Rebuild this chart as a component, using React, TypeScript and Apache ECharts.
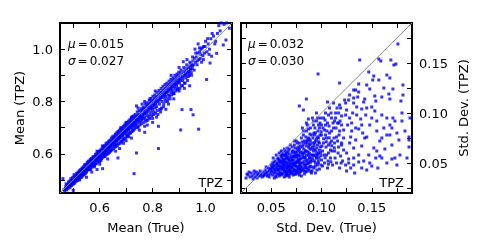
import React, { useEffect, useRef } from "react";
import * as echarts from "echarts";

const FONT = "DejaVu Sans";

// Axis ranges and ticks
const meanRange = [0.45, 1.1];
const meanTicks = [0.5, 0.6, 0.7, 0.8, 0.9, 1.0, 1.1];
const meanLabels = [0.6, 0.8, 1.0];
const stdRange = [0.02, 0.19];
const stdTicks = [0.025, 0.05, 0.075, 0.1, 0.125, 0.15, 0.175];
const stdLabels = [0.05, 0.1, 0.15];

const meanStats = ["0.015", "0.027"];
const stdStats = ["0.032", "0.030"];

// Mean (True) vs Mean (TPZ)
const meanPoints: number[][] = [
  [0.461,0.505],[0.465,0.462],[0.47,0.468],[0.472,0.475],[0.475,0.47],[0.478,0.48],[0.48,0.476],[0.482,0.49],[0.485,0.482],[0.487,0.479],
  [0.49,0.492],[0.492,0.486],[0.494,0.5],[0.495,0.49],[0.497,0.495],[0.5,0.46],[0.5,0.497],[0.502,0.493],[0.504,0.51],[0.505,0.5],
  [0.507,0.498],[0.509,0.505],[0.51,0.515],[0.512,0.503],[0.514,0.509],[0.515,0.52],[0.517,0.512],[0.519,0.51],[0.52,0.525],[0.522,0.516],
  [0.524,0.5],[0.525,0.52],[0.527,0.53],[0.529,0.522],[0.53,0.518],[0.532,0.535],[0.534,0.527],[0.535,0.54],[0.537,0.53],[0.539,0.545],
  [0.54,0.525],[0.542,0.538],[0.544,0.55],[0.545,0.536],[0.547,0.545],[0.549,0.54],[0.55,0.555],[0.55,0.53],
  [0.552,0.548],[0.554,0.56],[0.555,0.545],[0.557,0.552],[0.559,0.565],[0.56,0.55],[0.562,0.569],[0.563,0.558],[0.565,0.54],[0.566,0.562],
  [0.568,0.575],[0.57,0.565],[0.571,0.555],[0.573,0.57],[0.575,0.58],[0.576,0.566],[0.578,0.574],[0.58,0.585],[0.581,0.57],[0.583,0.578],
  [0.585,0.59],[0.586,0.575],[0.588,0.583],[0.59,0.595],[0.591,0.58],[0.593,0.588],[0.595,0.6],[0.596,0.585],[0.598,0.592],[0.6,0.605],
  [0.601,0.59],[0.603,0.598],[0.605,0.575],[0.606,0.61],[0.608,0.6],[0.61,0.592],[0.611,0.615],[0.613,0.605],[0.615,0.62],[0.616,0.608],
  [0.618,0.6],[0.62,0.625],[0.621,0.612],[0.623,0.618],[0.625,0.63],[0.626,0.605],[0.628,0.62],[0.63,0.635],[0.631,0.623],[0.633,0.615],
  [0.635,0.64],[0.636,0.628],[0.638,0.632],[0.64,0.645],[0.641,0.62],[0.643,0.637],[0.645,0.65],[0.646,0.64],[0.648,0.63],[0.65,0.655],
  [0.62,0.59],[0.58,0.555],[0.6,0.57],[0.64,0.61],[0.61,0.63],[0.59,0.61],[0.611,0.543],[0.58,0.55],
  [0.651,0.642],[0.653,0.66],[0.655,0.648],[0.656,0.635],[0.658,0.655],[0.66,0.665],[0.661,0.65],[0.663,0.658],[0.665,0.64],[0.666,0.67],
  [0.668,0.66],[0.669,0.584],[0.67,0.652],[0.672,0.675],[0.673,0.665],[0.675,0.66],[0.676,0.68],[0.678,0.67],[0.68,0.645],[0.681,0.685],
  [0.683,0.675],[0.685,0.668],[0.686,0.69],[0.688,0.68],[0.69,0.66],[0.691,0.695],[0.693,0.685],[0.695,0.675],[0.696,0.7],[0.698,0.69],
  [0.7,0.68],[0.701,0.705],[0.703,0.695],[0.705,0.67],[0.706,0.71],[0.708,0.7],[0.71,0.69],[0.711,0.715],[0.713,0.705],[0.715,0.68],
  [0.716,0.72],[0.718,0.71],[0.72,0.7],[0.721,0.725],[0.723,0.712],[0.725,0.69],[0.726,0.73],[0.728,0.72],[0.73,0.524],[0.73,0.705],
  [0.731,0.735],[0.733,0.722],[0.735,0.71],[0.736,0.74],[0.738,0.728],[0.739,0.603],[0.74,0.715],[0.741,0.745],[0.743,0.732],[0.745,0.7],
  [0.746,0.75],[0.748,0.738],[0.75,0.72],[0.7,0.72],[0.68,0.7],[0.72,0.74],[0.66,0.628],[0.71,0.665],[0.69,0.64],[0.739,0.783],
  [0.751,0.748],[0.753,0.74],[0.755,0.725],[0.756,0.76],[0.758,0.745],[0.76,0.73],[0.761,0.765],[0.763,0.75],[0.765,0.735],[0.766,0.77],
  [0.768,0.755],[0.77,0.682],[0.77,0.74],[0.771,0.775],[0.773,0.76],[0.775,0.725],[0.776,0.78],[0.778,0.765],[0.78,0.745],[0.781,0.785],
  [0.783,0.77],[0.785,0.74],[0.786,0.79],[0.788,0.775],[0.79,0.75],[0.791,0.795],[0.793,0.78],[0.795,0.76],[0.796,0.8],[0.798,0.785],
  [0.8,0.77],[0.8,0.735],[0.802,0.805],[0.804,0.79],[0.805,0.76],[0.807,0.81],[0.809,0.795],[0.81,0.775],[0.812,0.815],[0.814,0.8],
  [0.815,0.78],[0.817,0.82],[0.819,0.805],[0.82,0.75],[0.822,0.705],[0.822,0.62],[0.823,0.825],[0.825,0.81],[0.826,0.79],[0.828,0.83],
  [0.83,0.815],[0.831,0.77],[0.833,0.835],[0.835,0.82],[0.836,0.8],[0.838,0.84],[0.84,0.825],[0.841,0.78],[0.843,0.845],[0.845,0.83],
  [0.846,0.81],[0.848,0.85],[0.85,0.835],[0.76,0.79],[0.79,0.81],[0.77,0.8],[0.745,0.775],[0.81,0.84],
  [0.851,0.82],[0.853,0.855],[0.855,0.84],[0.856,0.8],[0.858,0.86],[0.86,0.845],[0.861,0.825],[0.863,0.865],[0.865,0.85],[0.866,0.81],
  [0.868,0.87],[0.87,0.855],[0.871,0.835],[0.873,0.875],[0.875,0.86],[0.876,0.84],[0.878,0.88],[0.88,0.865],[0.881,0.83],[0.883,0.885],
  [0.885,0.87],[0.886,0.85],[0.888,0.89],[0.89,0.875],[0.891,0.86],[0.893,0.895],[0.895,0.88],[0.896,0.85],[0.898,0.9],[0.9,0.885],
  [0.902,0.87],[0.904,0.905],[0.906,0.691],[0.906,0.89],[0.908,0.86],[0.91,0.91],[0.911,0.769],[0.912,0.895],[0.914,0.88],[0.916,0.952],
  [0.917,0.915],[0.919,0.9],[0.92,0.87],[0.922,0.92],[0.924,0.905],[0.926,0.89],[0.928,0.925],[0.93,0.91],[0.932,0.88],[0.934,0.93],
  [0.936,0.915],[0.938,0.9],[0.94,0.935],[0.942,0.92],[0.944,0.945],[0.945,0.769],[0.946,0.91],[0.948,0.94],[0.95,0.925],[0.953,0.749],
  [0.87,0.9],[0.9,0.93],[0.93,0.96],
  [0.952,0.955],[0.955,0.94],[0.958,0.965],[0.96,1.0],[0.962,0.95],[0.965,0.97],[0.968,0.94],[0.97,0.985],[0.972,1.02],[0.974,0.694],
  [0.975,0.96],[0.978,0.99],[0.98,0.965],[0.983,1.0],[0.985,0.95],[0.988,1.005],[0.99,0.975],[0.993,1.01],[0.996,0.985],[1.0,1.03],
  [1.004,0.884],[1.005,0.99],[1.01,1.02],[1.015,1.0],[1.017,0.947],[1.02,1.04],[1.023,0.973],[1.03,1.05],[1.035,1.02],[1.042,0.984],
  [1.045,1.06],[1.05,1.09],[1.055,1.07],[1.06,1.1],[1.067,1.016],[1.07,1.095],[1.077,1.035],[1.08,1.1],[1.09,1.08],
  [0.468,0.458],[0.473,0.485],[0.476,0.462],[0.481,0.468],[0.484,0.495],[0.488,0.472],[0.491,0.505],[0.493,0.478],[0.496,0.482],[0.498,0.51],
  [0.501,0.485],[0.503,0.52],[0.506,0.488],[0.508,0.515],[0.511,0.495],[0.513,0.525],[0.516,0.498],[0.518,0.53],[0.521,0.505],[0.523,0.535],
  [0.526,0.508],[0.528,0.54],[0.531,0.51],[0.533,0.545],[0.536,0.515],[0.538,0.55],[0.541,0.52],[0.543,0.558],[0.546,0.525],[0.548,0.56],
  [0.551,0.535],[0.553,0.568],[0.556,0.538],[0.558,0.572],[0.561,0.54],[0.564,0.578],[0.567,0.545],[0.569,0.582],[0.572,0.55],[0.574,0.588],
  [0.577,0.555],[0.579,0.59],[0.582,0.56],[0.584,0.598],[0.587,0.562],[0.589,0.6],[0.592,0.568],[0.594,0.608],[0.597,0.572],[0.599,0.61],
  [0.602,0.578],[0.604,0.615],[0.607,0.582],[0.609,0.62],[0.612,0.585],[0.614,0.628],[0.617,0.59],[0.619,0.632],[0.622,0.595],[0.624,0.64],
  [0.627,0.598],[0.629,0.642],[0.632,0.6],[0.634,0.648],[0.637,0.605],[0.639,0.652],[0.642,0.612],[0.644,0.66],[0.647,0.615],[0.649,0.665],
  [0.652,0.62],[0.654,0.668],[0.657,0.625],[0.659,0.675],[0.662,0.63],[0.664,0.68],[0.667,0.632],[0.669,0.685],[0.672,0.638],[0.674,0.69],
  [0.677,0.64],[0.679,0.695],[0.682,0.648],[0.684,0.698],[0.687,0.65],[0.689,0.705],[0.692,0.655],[0.694,0.71],[0.697,0.66],[0.699,0.715],
  [0.702,0.665],[0.704,0.72],[0.707,0.672],[0.709,0.725],[0.712,0.678],[0.714,0.73],[0.717,0.68],[0.719,0.735],[0.722,0.685],[0.724,0.742],
  [0.727,0.69],[0.729,0.745],[0.732,0.695],[0.734,0.75],[0.737,0.7],[0.742,0.76],[0.744,0.705],[0.749,0.765],[0.752,0.71],[0.757,0.772],
  [0.759,0.715],[0.764,0.778],[0.767,0.72],[0.772,0.79],[0.774,0.73],[0.779,0.795],[0.782,0.728],[0.787,0.805],[0.789,0.735],[0.794,0.812],
  [0.797,0.745],[0.801,0.82],[0.803,0.75],[0.808,0.825],[0.811,0.755],[0.816,0.835],[0.818,0.765],[0.824,0.842],[0.827,0.77],[0.832,0.85],
  [0.834,0.775],[0.839,0.858],[0.842,0.79],[0.847,0.865],[0.849,0.8],[0.854,0.87],[0.857,0.81],[0.862,0.878],[0.864,0.82],[0.869,0.885],
  [0.872,0.825],[0.877,0.89],[0.879,0.83],[0.884,0.9],[0.887,0.84],[0.892,0.905],[0.894,0.845],[0.899,0.912],[0.903,0.85],[0.907,0.92],
  [0.913,0.86],[0.918,0.93],[0.923,0.87],[0.929,0.94],[0.935,0.895],[0.941,0.95],[0.947,0.9],[0.951,0.97],[0.957,0.92],[0.963,0.985],
  [0.969,0.955],[0.977,1.005],[0.982,0.98],[0.992,0.96],[0.998,1.01],[1.008,1.04],[1.013,0.98],[1.025,1.06],[1.038,1.03],
  [0.474,0.466],[0.486,0.474],[0.499,0.488],[0.506,0.494],[0.518,0.502],[0.527,0.515],[0.538,0.522],[0.546,0.532],[0.557,0.54],[0.564,0.553],
  [0.574,0.558],[0.583,0.565],[0.592,0.576],[0.604,0.586],[0.612,0.598],[0.619,0.61],[0.627,0.612],[0.634,0.622],[0.642,0.63],[0.649,0.638],
  [0.657,0.642],[0.664,0.65],[0.671,0.66],[0.679,0.662],[0.686,0.672],[0.694,0.68],[0.702,0.686],[0.709,0.694],[0.717,0.698],[0.724,0.706],
  [0.732,0.715],[0.74,0.724],[0.747,0.728],[0.754,0.735],[0.762,0.742],[0.769,0.752],[0.777,0.755],[0.784,0.762],[0.792,0.772],[0.799,0.776],
  [0.806,0.785],[0.813,0.79],[0.821,0.8],[0.829,0.806],[0.836,0.815],[0.844,0.82],[0.852,0.832],[0.859,0.838],[0.867,0.845],[0.874,0.85],
  [0.882,0.858],[0.889,0.865],[0.897,0.872],[0.905,0.88],[0.915,0.89],[0.925,0.9],[0.937,0.908],[0.943,0.925],[0.95,0.935],[0.59,0.54],
  [0.63,0.58],[0.66,0.61],[0.7,0.65],[0.72,0.66],[0.75,0.69],[0.78,0.71],[0.8,0.72],[0.83,0.76],[0.86,0.79],[0.88,0.81],
  [0.9,0.84],[0.92,0.85],[0.94,0.86],[0.55,0.51],[0.57,0.53],[0.6,0.56],[0.675,0.62],[0.77,0.705],[0.815,0.74],[0.85,0.77]
];

// Std. Dev. (True) vs Std. Dev. (TPZ)
const stdPoints: number[][] = [
  [0.025,0.035],[0.027,0.038],[0.029,0.036],[0.03,0.04],[0.031,0.037],[0.033,0.039],[0.034,0.036],[0.035,0.041],[0.036,0.038],[0.037,0.04],
  [0.038,0.037],[0.039,0.042],[0.04,0.039],[0.041,0.036],[0.042,0.041],[0.043,0.038],[0.044,0.043],[0.045,0.04],[0.046,0.037],[0.047,0.045],
  [0.048,0.042],[0.049,0.039],[0.05,0.048],[0.05,0.044],[0.028,0.041],[0.032,0.034],[0.045,0.046],[0.048,0.036],
  [0.026,0.039],[0.033,0.042],[0.036,0.035],[0.039,0.038],[0.042,0.037],[0.044,0.039],[0.046,0.041],[0.047,0.038],[0.049,0.044],
  [0.051,0.05],[0.052,0.045],[0.052,0.055],[0.053,0.04],[0.053,0.048],[0.054,0.052],[0.054,0.043],[0.055,0.058],[0.055,0.046],[0.056,0.05],
  [0.056,0.039],[0.057,0.054],[0.057,0.044],[0.058,0.06],[0.058,0.048],[0.059,0.052],[0.059,0.041],[0.06,0.056],[0.06,0.046],[0.06,0.062],
  [0.055,0.036],[0.058,0.037],[0.057,0.042],[0.059,0.047],[0.051,0.042],
  [0.0505,0.046],[0.0515,0.038],[0.0525,0.051],[0.0535,0.044],[0.0545,0.037],[0.0555,0.049],[0.0565,0.055],[0.0575,0.039],[0.0585,0.044],[0.0595,0.058],
  [0.0505,0.041],[0.053,0.035],[0.056,0.047],[0.058,0.053],[0.06,0.038],
  [0.061,0.05],[0.061,0.04],[0.062,0.058],[0.062,0.045],[0.063,0.053],[0.063,0.036],[0.064,0.062],[0.064,0.048],[0.065,0.042],[0.065,0.055],
  [0.066,0.065],[0.066,0.05],[0.067,0.038],[0.067,0.046],[0.068,0.059],[0.068,0.052],[0.069,0.044],[0.069,0.068],[0.07,0.049],[0.07,0.057],
  [0.07,0.04],[0.061,0.055],[0.062,0.039],[0.063,0.047],[0.064,0.041],[0.065,0.051],[0.066,0.044],[0.067,0.056],[0.068,0.036],[0.069,0.05],
  [0.066,0.06],[0.068,0.064],[0.062,0.051],[0.064,0.054],[0.067,0.049],
  [0.0605,0.052],[0.0615,0.045],[0.0625,0.043],[0.0635,0.058],[0.0645,0.037],[0.0655,0.047],[0.0665,0.054],[0.0675,0.042],[0.0685,0.047],[0.0695,0.055],
  [0.061,0.061],[0.063,0.064],[0.065,0.039],[0.067,0.062],[0.069,0.039],[0.0625,0.049],[0.0655,0.057],[0.0685,0.043],[0.064,0.045],[0.066,0.041],
  [0.071,0.053],[0.071,0.045],[0.072,0.062],[0.072,0.038],[0.073,0.05],[0.073,0.068],[0.074,0.043],[0.074,0.057],[0.075,0.072],[0.075,0.047],
  [0.076,0.052],[0.076,0.064],[0.077,0.04],[0.077,0.058],[0.078,0.048],[0.078,0.07],[0.079,0.054],[0.079,0.044],[0.08,0.061],[0.08,0.037],
  [0.08,0.075],[0.071,0.06],[0.072,0.048],[0.073,0.042],[0.074,0.065],[0.075,0.055],[0.076,0.046],[0.077,0.066],[0.078,0.041],[0.079,0.06],
  [0.074,0.05],[0.076,0.058],[0.078,0.053],[0.072,0.056],[0.077,0.051],
  [0.0705,0.046],[0.0715,0.056],[0.0725,0.044],[0.0735,0.059],[0.0745,0.039],[0.0755,0.051],[0.0765,0.042],[0.0775,0.062],[0.0785,0.045],[0.0795,0.05],
  [0.071,0.066],[0.073,0.072],[0.075,0.041],[0.077,0.045],[0.079,0.067],[0.0725,0.053],[0.0755,0.061],[0.0785,0.057],[0.074,0.047],[0.076,0.07],
  [0.078,0.038],[0.072,0.042],
  [0.081,0.05],[0.081,0.066],[0.082,0.044],[0.082,0.078],[0.083,0.056],[0.083,0.039],[0.084,0.07],[0.084,0.048],[0.085,0.062],[0.085,0.082],
  [0.086,0.053],[0.086,0.042],[0.087,0.075],[0.087,0.058],[0.088,0.046],[0.088,0.068],[0.089,0.085],[0.089,0.052],[0.09,0.064],[0.09,0.04],
  [0.09,0.078],[0.082,0.06],[0.083,0.072],[0.084,0.055],[0.085,0.045],[0.086,0.07],[0.087,0.05],[0.088,0.06],[0.089,0.072],[0.085,0.114],
  [0.078,0.107],[0.082,0.103],[0.085,0.09],[0.081,0.085],[0.088,0.055],[0.087,0.094],
  [0.0805,0.055],[0.0815,0.043],[0.0825,0.064],[0.0835,0.047],[0.0845,0.076],[0.0855,0.049],[0.0865,0.061],[0.0875,0.043],[0.0885,0.079],[0.0895,0.058],
  [0.081,0.071],[0.083,0.06],[0.085,0.067],[0.087,0.084],[0.089,0.047],[0.0825,0.052],[0.0845,0.041],[0.0865,0.073],[0.0885,0.064],[0.084,0.062],
  [0.088,0.074],[0.086,0.088],[0.082,0.082],
  [0.091,0.058],[0.091,0.046],[0.092,0.07],[0.092,0.088],[0.093,0.052],[0.093,0.064],[0.094,0.04],[0.094,0.08],[0.095,0.056],[0.095,0.092],
  [0.096,0.068],[0.096,0.048],[0.097,0.075],[0.097,0.06],[0.098,0.085],[0.098,0.044],[0.099,0.066],[0.099,0.095],[0.1,0.053],[0.1,0.078],
  [0.1,0.088],[0.092,0.062],[0.094,0.072],[0.096,0.058],[0.098,0.07],[0.093,0.078],[0.097,0.05],[0.0966,0.139],[0.095,0.1],[0.091,0.095],
  [0.0905,0.052],[0.0915,0.075],[0.0925,0.045],[0.0935,0.085],[0.0945,0.062],[0.0955,0.043],[0.0965,0.082],[0.0975,0.055],[0.0985,0.09],[0.0995,0.048],
  [0.091,0.066],[0.093,0.058],[0.095,0.074],[0.097,0.088],[0.099,0.06],[0.0925,0.08],[0.0955,0.065],[0.0985,0.078],[0.094,0.05],[0.096,0.095],
  [0.092,0.092],
  [0.101,0.062],[0.102,0.07],[0.102,0.095],[0.103,0.05],[0.103,0.083],[0.104,0.1],[0.105,0.058],[0.105,0.075],[0.106,0.09],[0.106,0.045],
  [0.107,0.068],[0.108,0.105],[0.108,0.08],[0.109,0.055],[0.11,0.095],[0.11,0.072],[0.111,0.048],[0.112,0.085],[0.112,0.11],[0.113,0.062],
  [0.114,0.1],[0.115,0.076],[0.115,0.05],[0.116,0.09],[0.117,0.066],[0.118,0.108],[0.118,0.082],[0.119,0.057],[0.12,0.097],[0.12,0.07],
  [0.104,0.088],[0.107,0.098],[0.113,0.092],[0.117,0.1],[0.109,0.063],[0.106,0.111],
  [0.1005,0.067],[0.1015,0.085],[0.1025,0.058],[0.1035,0.093],[0.1045,0.066],[0.1055,0.082],[0.1065,0.052],[0.1075,0.087],[0.1085,0.07],[0.1095,0.1],
  [0.1105,0.062],[0.1115,0.09],[0.1125,0.075],[0.1135,0.055],[0.1145,0.085],[0.1155,0.105],[0.1165,0.06],[0.1175,0.078],[0.1185,0.092],[0.1195,0.05],
  [0.101,0.047],[0.104,0.078],[0.107,0.06],[0.11,0.082],[0.113,0.07],[0.116,0.072],
  [0.0522,0.0472],[0.0541,0.0408],[0.0563,0.0433],[0.0578,0.0512],[0.0592,0.0388],[0.0607,0.0437],[0.0619,0.0531],[0.0633,0.0418],[0.0641,0.0506],[0.0658,0.0452],
  [0.0662,0.0378],[0.0677,0.0533],[0.0681,0.0412],[0.0697,0.0462],[0.0703,0.0523],[0.0712,0.0402],[0.0728,0.0478],[0.0731,0.0567],[0.0747,0.0423],[0.0752,0.0508],
  [0.0768,0.0443],[0.0773,0.0538],[0.0789,0.0472],[0.0794,0.0413],[0.0808,0.0463],[0.0812,0.0583],[0.0828,0.0493],[0.0833,0.0418],[0.0848,0.0523],[0.0852,0.0578],
  [0.0868,0.0448],[0.0873,0.0658],[0.0889,0.0507],[0.0894,0.0413],[0.0911,0.0543],[0.0922,0.0573],[0.0938,0.0469],[0.0953,0.0593],[0.0968,0.0522],[0.0981,0.0627],
  [0.0596,0.0503],[0.0616,0.0478],[0.0638,0.0572],[0.0652,0.0392],[0.0673,0.0473],[0.0694,0.0418],[0.0716,0.0497],[0.0738,0.0388],[0.0759,0.0568],[0.0779,0.0503],
  [0.0801,0.0428],[0.0823,0.0557],[0.0843,0.0452],[0.0862,0.0498],[0.0884,0.0552],[0.0906,0.0422],[0.0927,0.0673],[0.0948,0.0548],[0.0971,0.0712],[0.0993,0.0572],
  [0.0587,0.0462],[0.0611,0.0582],[0.0647,0.0598],[0.0709,0.0618],[0.0742,0.0608],[0.0782,0.0641],[0.0818,0.0682],[0.0856,0.0722],[0.0891,0.0692],[0.0932,0.0702],
  [0.0962,0.0762],[0.0997,0.0812],[0.1021,0.0742],[0.1048,0.0712],[0.1077,0.0752],[0.1102,0.0672],[0.1036,0.0552],[0.1069,0.0488],[0.1093,0.0512],[0.1128,0.0652],
  [0.176,0.169],[0.138,0.153],[0.157,0.154],[0.159,0.152],[0.169,0.153],[0.174,0.149],[0.172,0.148],[0.118,0.13],[0.147,0.141],[0.152,0.137],
  [0.151,0.133],[0.157,0.133],[0.165,0.138],[0.168,0.135],[0.137,0.129],[0.134,0.123],[0.137,0.121],[0.148,0.124],[0.143,0.114],[0.142,0.111],
  [0.153,0.117],[0.154,0.112],[0.16,0.116],[0.171,0.124],[0.167,0.119],[0.168,0.114],[0.181,0.128],[0.181,0.118],[0.179,0.112],[0.132,0.123],
  [0.136,0.116],[0.132,0.115],[0.127,0.113],[0.123,0.113],[0.124,0.11],[0.132,0.11],
  [0.15,0.106],[0.153,0.102],[0.14,0.104],[0.18,0.092],[0.168,0.088],[0.17,0.085],[0.165,0.078],[0.168,0.078],[0.177,0.073],[0.187,0.076],
  [0.187,0.073],[0.187,0.066],[0.134,0.085],[0.137,0.084],[0.143,0.075],[0.145,0.076],[0.152,0.065],[0.154,0.055],[0.158,0.057],[0.16,0.055],
  [0.15,0.047],[0.145,0.043],[0.17,0.054],[0.173,0.055],[0.175,0.048],[0.132,0.065],[0.127,0.054],[0.132,0.055],[0.124,0.048],[0.129,0.045],
  [0.12,0.068],[0.14,0.067],[0.134,0.073],[0.129,0.076],[0.137,0.058],[0.114,0.095],[0.117,0.09],[0.12,0.088],[0.122,0.083],[0.173,0.092],
  [0.171,0.095],[0.188,0.095],[0.127,0.05],[0.132,0.048],[0.137,0.051],[0.125,0.06],[0.122,0.075],[0.128,0.095],[0.126,0.088],[0.131,0.1],
  [0.139,0.094],[0.144,0.098],[0.148,0.088],[0.155,0.092],[0.16,0.098],[0.162,0.085],[0.158,0.072],[0.163,0.064],[0.147,0.058],[0.142,0.052],
  [0.156,0.045],[0.165,0.05],[0.178,0.058],[0.183,0.082],[0.121,0.052],[0.124,0.098],[0.119,0.105],[0.13,0.082],[0.141,0.08],[0.135,0.106],
  [0.125,0.103],[0.13,0.09],[0.135,0.098],[0.14,0.088],[0.145,0.105],[0.15,0.095],[0.155,0.082],[0.16,0.075],[0.165,0.095],[0.17,0.068],
  [0.175,0.08],[0.18,0.1],[0.185,0.055],[0.162,0.125],[0.145,0.128],[0.128,0.118],[0.122,0.063],[0.133,0.04],[0.14,0.045],[0.148,0.05],
  [0.155,0.062],[0.128,0.07],[0.118,0.045],[0.125,0.042]
];

export default function App() {
  const ref = useRef<HTMLDivElement>(null);
  useEffect(() => {
    if (!ref.current) return;
    const chart = echarts.init(ref.current, null, { renderer: "svg" });
    const txt = { color: "#000", fontFamily: FONT, fontSize: 13 };
    const tick = (vals: number[]) => ({
      show: true, inside: true, length: 5, customValues: vals,
      lineStyle: { color: "#000", width: 1 },
    });
    const base = (grid: number, range: number[]) => ({
      gridIndex: grid, type: "value", min: range[0], max: range[1],
      axisLine: { show: false }, splitLine: { show: false },
    });
    const lab = (vals: number[], dec: number, margin: number) => ({
      show: true, customValues: vals, margin, ...txt,
      formatter: (v: number) => v.toFixed(dec),
    });
    const nameStyle = { color: "#000", fontFamily: FONT, fontSize: 13 };
    const statText = (x: number, y: number, sym: string, val: string) => ({
      type: "text", x, y,
      style: {
        text: `{s|${sym}}{e|=}{t|${val}}`,
        rich: {
          s: { fontFamily: FONT, fontSize: 12, fontStyle: "italic", fill: "#000" },
          e: { fontFamily: FONT, fontSize: 12, fill: "#000", padding: [0, 2, 0, 2] },
          t: { fontFamily: FONT, fontSize: 12, fill: "#000" },
        },
        verticalAlign: "middle",
      },
    });
    const tpz = (x: number, y: number) => ({
      type: "text", x, y,
      style: { text: "TPZ", font: `13px '${FONT}'`, fill: "#000", align: "right", verticalAlign: "middle" },
    });
    const sym = { symbol: "rect", symbolSize: 3, itemStyle: { color: "#0000ff" }, silent: true };
    chart.setOption({
      animation: false,
      grid: [
        { left: 60, top: 23, width: 172, height: 170, show: true, borderColor: "#000", borderWidth: 2, backgroundColor: "transparent" },
        { left: 241, top: 23, width: 171, height: 170, show: true, borderColor: "#000", borderWidth: 2, backgroundColor: "transparent" },
      ],
      xAxis: [
        { ...base(0, meanRange), position: "bottom", axisTick: tick(meanTicks), axisLabel: lab(meanLabels, 1, 8),
          name: "Mean (True)", nameLocation: "middle", nameGap: 28, nameTextStyle: nameStyle },
        { ...base(0, meanRange), position: "top", axisTick: tick(meanTicks), axisLabel: { show: false } },
        { ...base(1, stdRange), position: "bottom", axisTick: tick(stdTicks), axisLabel: lab(stdLabels, 2, 8),
          name: "Std. Dev. (True)", nameLocation: "middle", nameGap: 28, nameTextStyle: nameStyle },
        { ...base(1, stdRange), position: "top", axisTick: tick(stdTicks), axisLabel: { show: false } },
      ],
      yAxis: [
        { ...base(0, meanRange), position: "left", axisTick: tick(meanTicks), axisLabel: lab(meanLabels, 1, 7),
          name: "Mean (TPZ)", nameLocation: "middle", nameGap: 34, nameTextStyle: nameStyle },
        { ...base(0, meanRange), position: "right", axisTick: tick(meanTicks), axisLabel: { show: false } },
        { ...base(1, stdRange), position: "left", axisTick: tick(stdTicks), axisLabel: { show: false } },
        { ...base(1, stdRange), position: "right", axisTick: tick(stdTicks), axisLabel: lab(stdLabels, 2, 7),
          name: "Std. Dev. (TPZ)", nameLocation: "middle", nameGap: 45, nameTextStyle: nameStyle },
      ],
      series: [
        { type: "scatter", xAxisIndex: 0, yAxisIndex: 0, data: meanPoints, ...sym },
        { type: "line", xAxisIndex: 0, yAxisIndex: 0, data: meanRange.map((v) => [v, v]), symbol: "none",
          lineStyle: { color: "#8c8c8c", width: 1 }, z: 5, silent: true },
        { type: "scatter", xAxisIndex: 2, yAxisIndex: 2, data: stdPoints, ...sym },
        { type: "line", xAxisIndex: 2, yAxisIndex: 2, data: stdRange.map((v) => [v, v]), symbol: "none",
          lineStyle: { color: "#8c8c8c", width: 1 }, z: 5, silent: true },
      ],
      graphic: [
        statText(68, 44, "μ", meanStats[0]),
        statText(68, 61, "σ", meanStats[1]),
        statText(248, 44, "μ", stdStats[0]),
        statText(248, 61, "σ", stdStats[1]),
        tpz(223, 182),
        tpz(404, 182),
      ],
    });
    return () => chart.dispose();
  }, []);
  return <div ref={ref} style={{ position: "fixed", left: 0, top: 0, width: 485, height: 242 }} />;
}
